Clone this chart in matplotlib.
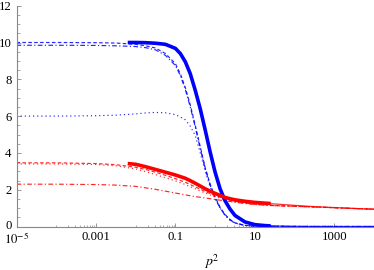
import numpy as np
import matplotlib
matplotlib.use("Agg")
import matplotlib.pyplot as plt
import matplotlib.transforms as mtransforms
from matplotlib.ticker import FixedLocator, NullFormatter

plt.rcParams['font.family'] = ['Liberation Serif', 'DejaVu Serif']
plt.rcParams['mathtext.fontset'] = 'stix'

# ---------------- data (log10 of p^2 and values) -------------
lx_thin = [-5, -4, -3, -2.5, -2, -1.75, -1.5, -1.25, -1.0, -0.875, -0.75, -0.625,
           -0.5, -0.375, -0.25, -0.125, 0, 0.125, 0.25, 0.375, 0.5, 0.75, 1.0,
           1.5, 2, 3, 4]

blue_dashed = [10.0, 10.0, 9.99, 9.97, 9.9, 9.82, 9.7, 9.4, 8.85, 8.3, 7.55, 6.6,
               5.5, 4.35, 3.2, 2.3, 1.6, 1.05, 0.65, 0.38, 0.2, 0.06, 0.02,
               0.01, 0.0, 0.0, 0.0]
blue_dashdot = [9.85, 9.85, 9.84, 9.82, 9.78, 9.72, 9.6, 9.3, 8.75, 8.2, 7.45, 6.5,
                5.4, 4.25, 3.15, 2.25, 1.55, 1.0, 0.62, 0.36, 0.19, 0.06, 0.02,
                0.01, 0.0, 0.0, 0.0]
blue_dotted = [6.0, 6.0, 6.02, 6.05, 6.12, 6.17, 6.2, 6.18, 6.08, 5.95, 5.8, 5.45,
               4.95, 4.0, 3.0, 2.15, 1.5, 1.0, 0.6, 0.35, 0.18, 0.06, 0.02,
               0.01, 0.0, 0.0, 0.0]

red_dashed = [3.46, 3.46, 3.42, 3.36, 3.22, 3.1, 2.95, 2.78, 2.6, 2.5, 2.4, 2.28,
              2.15, 2.03, 1.9, 1.79, 1.68, 1.59, 1.5, 1.43, 1.37, 1.28, 1.22,
              1.14, 1.1, 1.02, 0.94]
red_dotted = [3.4, 3.4, 3.37, 3.3, 3.13, 2.98, 2.82, 2.65, 2.48, 2.38, 2.28, 2.16,
              2.05, 1.93, 1.82, 1.72, 1.62, 1.54, 1.46, 1.4, 1.34, 1.26, 1.2,
              1.13, 1.1, 1.02, 0.94]
red_dashdot = [2.3, 2.3, 2.28, 2.25, 2.18, 2.1, 2.02, 1.92, 1.82, 1.77, 1.72, 1.67,
               1.62, 1.59, 1.55, 1.51, 1.47, 1.43, 1.4, 1.36, 1.32, 1.25, 1.2,
               1.13, 1.1, 1.02, 0.94]

lx_thick = [-2.2, -2, -1.75, -1.5, -1.25, -1.0, -0.875, -0.75, -0.625, -0.5, -0.375,
            -0.25, -0.125, 0, 0.125, 0.25, 0.375, 0.5, 0.75, 1.0, 1.25, 1.4]
blue_thick = [10.0, 10.0, 9.99, 9.96, 9.9, 9.68, 9.4, 8.95, 8.3, 7.4, 6.4,
              5.25, 4.05, 2.95, 2.05, 1.4, 0.95, 0.6, 0.25, 0.1, 0.05, 0.03]
red_thick = [3.42, 3.38, 3.25, 3.1, 2.95, 2.8, 2.71, 2.62, 2.49, 2.35, 2.2,
             2.05, 1.92, 1.8, 1.69, 1.58, 1.51, 1.45, 1.37, 1.31, 1.27, 1.25]

lx_tail = [1.4, 2, 2.5, 3, 3.5, 4]
blue_tail = [0.03, 0.01, 0.0, 0.0, 0.0, 0.0]
red_tail = [1.24, 1.15, 1.08, 1.03, 0.98, 0.94]

xtick_vals = [1e-5, 1e-3, 1e-1, 1e1, 1e3]
xtick_labels = [r'$10^{-5}$', '0.001', '0.1', '10', '1000']
ytick_vals = [0, 2, 4, 6, 8, 10, 12]

# ---------------- figure ----------------
fig = plt.figure(figsize=(3.74, 2.70), dpi=100)
ax = fig.add_axes([16.5 / 374, 43.5 / 270, 1 - 16.5 / 374, (226.5 - 5.7) / 270])

def px(lx):
    return 10.0 ** np.asarray(lx, dtype=float)

blue = '#0000ff'
red = '#ff0000'
lw_thin = 0.85

ax.plot(px(lx_thin), blue_dashed, color=blue, lw=lw_thin, alpha=0.85, dashes=(3, 2))
ax.plot(px(lx_thin), blue_dashdot, color=blue, lw=lw_thin, alpha=0.85, dashes=(4, 2, 1, 2))
ax.plot(px(lx_thin), blue_dotted, color=blue, lw=lw_thin, alpha=0.85, dashes=(1, 2.5))
ax.plot(px(lx_thin), red_dashed, color=red, lw=lw_thin, alpha=0.85, dashes=(3, 2))
ax.plot(px(lx_thin), red_dotted, color=red, lw=lw_thin, alpha=0.85, dashes=(1, 2.5))
ax.plot(px(lx_thin), red_dashdot, color=red, lw=lw_thin, alpha=0.85, dashes=(4, 2, 1, 2))

ax.plot(px(lx_tail), blue_tail, color=blue, lw=0.9, alpha=0.8)
ax.plot(px(lx_tail), red_tail, color=red, lw=0.9, alpha=0.8)
ax.plot(px(lx_thick), blue_thick, color=blue, lw=2.6, solid_capstyle='butt')
ax.plot(px(lx_thick), red_thick, color=red, lw=2.6, solid_capstyle='butt')

ax.set_xscale('log')
ax.set_xlim(1e-5, 1e4)
ax.set_ylim(0, 12)

for s in ['top', 'right']:
    ax.spines[s].set_visible(False)
for s in ['left', 'bottom']:
    ax.spines[s].set_color('#888888')
    ax.spines[s].set_linewidth(0.8)

ax.xaxis.set_major_locator(FixedLocator(xtick_vals))
ax.set_xticklabels(xtick_labels)
minor_x = []
for dec in [-4, -2, 0, 2]:
    for k in range(1, 10):
        minor_x.append(k * 10.0 ** dec)
ax.xaxis.set_minor_locator(FixedLocator(minor_x))
ax.xaxis.set_minor_formatter(NullFormatter())

ax.set_yticks(ytick_vals)
ax.set_yticklabels([str(v) for v in ytick_vals])
ax.yaxis.set_minor_locator(FixedLocator(np.arange(0, 12.01, 0.5)))

ax.tick_params(axis='both', which='major', direction='in', length=3.2, width=0.6,
               color='#888888', labelsize=9.2, labelcolor='black')
ax.tick_params(axis='both', which='minor', direction='in', length=1.8, width=0.5,
               color='#888888')
ax.tick_params(axis='x', which='major', pad=3.5)
ax.tick_params(axis='y', which='major', pad=3.5)

# nudge the "0" label up slightly so it does not touch the 10^-5 label
zero_lbl = ax.yaxis.get_major_ticks()[0].label1
zero_lbl.set_transform(zero_lbl.get_transform() +
                       mtransforms.ScaledTranslation(0, 1.5 / 72, fig.dpi_scale_trans))

fig.text(212 / 374, 1 - 262 / 270, r'$p^2$', ha='center', va='center', fontsize=10)

fig.savefig('out.png', dpi=100)
